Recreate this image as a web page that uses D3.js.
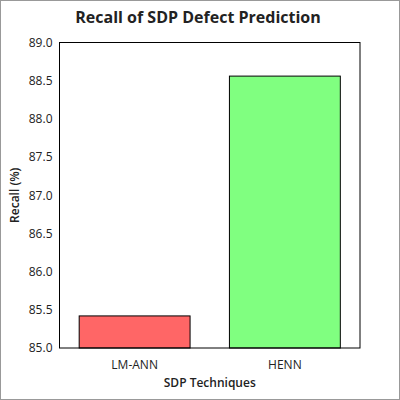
<!DOCTYPE html>
<html>
<head>
<meta charset="utf-8">
<script src="https://cdn.jsdelivr.net/npm/d3@7"></script>
<style>
  body { margin: 0; background: #fff; }
  text { font-family: "Open Sans", sans-serif; fill: #222; }
</style>
</head>
<body>
<div id="chart"></div>
<script>
// dados do gráfico
const techniques = ["LM-ANN", "HENN"];
const recallValues = [85.42, 88.56];
const barColors = ["#ff6666", "#80ff80"];
const yTicks = [85.0, 85.5, 86.0, 86.5, 87.0, 87.5, 88.0, 88.5, 89.0];

const svgWidth = 400,
  svgHeight = 400;
const margin = { top: 42.5, right: 40, bottom: 52, left: 59.5 };
const width = 300.5;
const height = 305.5;

const root = d3
  .select("#chart")
  .append("svg")
  .attr("width", svgWidth)
  .attr("height", svgHeight);

// moldura externa
root
  .append("rect")
  .attr("x", 0.5)
  .attr("y", 0.5)
  .attr("width", svgWidth - 1)
  .attr("height", svgHeight - 1)
  .attr("fill", "#fff")
  .attr("stroke", "#999");

const svg = root
  .append("g")
  .attr("transform", `translate(${margin.left}, ${margin.top})`);

const x = d3
  .scaleBand()
  .range([0, width])
  .domain(techniques)
  .paddingInner(0.262)
  .paddingOuter(0.131);

const y = d3.scaleLinear().range([height, 0]).domain([85, 89]);

const data = techniques.map((t, i) => ({
  tecnica: t,
  valor: recallValues[i],
  cor: barColors[i],
}));

svg
  .selectAll(".bar")
  .data(data)
  .enter()
  .append("rect")
  .attr("class", "bar")
  .attr("x", (d) => x(d.tecnica))
  .attr("width", x.bandwidth())
  .attr("y", (d) => y(d.valor))
  .attr("height", (d) => height - y(d.valor))
  .attr("fill", (d) => d.cor)
  .attr("stroke", "#000")
  .attr("stroke-width", 1);

// caixa do gráfico
svg
  .append("rect")
  .attr("width", width)
  .attr("height", height)
  .attr("fill", "none")
  .attr("stroke", "#000")
  .attr("stroke-width", 1);

const xAxis = svg
  .append("g")
  .attr("transform", `translate(0, ${height})`)
  .call(d3.axisBottom(x).tickSize(0).tickPadding(12));
xAxis.select(".domain").remove();
xAxis.selectAll("text").style("font-size", "12px").attr("fill", "#222");

const yAxis = svg
  .append("g")
  .call(
    d3
      .axisLeft(y)
      .tickValues(yTicks)
      .tickFormat(d3.format(".1f"))
      .tickSize(0)
      .tickPadding(7)
  );
yAxis.select(".domain").remove();
yAxis.selectAll("text").style("font-size", "12px").attr("fill", "#222");

// títulos
root
  .append("text")
  .attr("x", 198)
  .attr("y", 23)
  .attr("text-anchor", "middle")
  .style("font-size", "16px")
  .style("font-weight", "bold")
  .text("Recall of SDP Defect Prediction");

root
  .append("text")
  .attr("x", margin.left + width / 2)
  .attr("y", 387)
  .attr("text-anchor", "middle")
  .style("font-size", "12px")
  .style("font-weight", 600)
  .text("SDP Techniques");

root
  .append("text")
  .attr("transform", `translate(19, ${margin.top + height / 2}) rotate(-90)`)
  .attr("text-anchor", "middle")
  .style("font-size", "12px")
  .style("font-weight", 600)
  .text("Recall (%)");
</script>
</body>
</html>
